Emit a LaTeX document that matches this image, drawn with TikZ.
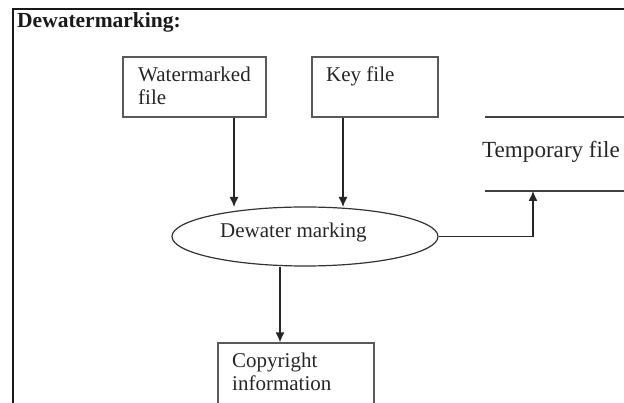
\documentclass[tikz,border=0pt]{standalone}
\usepackage{fontspec}
\setmainfont{Liberation Serif}
\usetikzlibrary{arrows.meta,shapes.geometric}
\begin{document}
\begin{tikzpicture}[x=1pt,y={(0,-1pt)},
  boxshape/.style={draw=black!65,line width=1.2pt,rectangle,inner sep=0pt},
  txt/.style={font=\fontsize{21}{23}\selectfont,inner sep=0pt,anchor=base west,text=black!85},
  arr/.style={draw=black!85,line width=1.3pt,-{Latex[length=10pt,width=9pt]}},
  plain/.style={draw=black!75,line width=1.3pt}]
\useasboundingbox (0,0) rectangle (624,403);
% frame
\draw[line width=2pt,black!90] (13,410) -- (13,9) -- (630,9);
% title
\node[txt,font=\fontsize{21.5}{23}\selectfont\bfseries,text=black!90] (title) at (17,28) {Dewatermarking:};
% boxes
\node[boxshape,minimum width=143pt,minimum height=60pt] (wm) at (194.5,87) {};
\node[txt] (wmt1) at (138,82) {Watermarked};
\node[txt] (wmt2) at (138,105) {file};
\node[boxshape,minimum width=126pt,minimum height=60pt] (key) at (375,87) {};
\node[txt] (keyt) at (326,82) {Key file};
\node[boxshape,minimum width=156pt,minimum height=80pt] (cr) at (296,383) {};
\node[txt] (crt1) at (232,367) {Copyright};
\node[txt] (crt2) at (232,390) {information};
% ellipse
\node[draw=black!80,line width=1.2pt,ellipse,minimum width=266pt,minimum height=59pt,inner sep=0pt] (dm) at (305,236.5) {};
\node[txt] (dmt) at (220,238) {Dewater marking};
% temporary file store
\coordinate (tl1) at (485,117);
\coordinate (tl2) at (630,117);
\coordinate (bl1) at (485,191);
\coordinate (bl2) at (630,191);
\coordinate (tin) at (533,191);
\draw[plain] (tl1) -- (tl2);
\draw[plain] (bl1) -- (bl2);
\node[txt,font=\fontsize{23.1}{26}\selectfont] (tmp) at (482,158) {Temporary file};
% connectors
\draw[arr] (wm.south -| 234,0) -- (234,207);
\draw[arr] (key.south -| 343,0) -- (343,207);
\draw[arr] (dm.east) -| (tin);
\draw[arr] (dm.south -| 280,0) -- (cr.north -| 280,0);
\end{tikzpicture}
\end{document}
